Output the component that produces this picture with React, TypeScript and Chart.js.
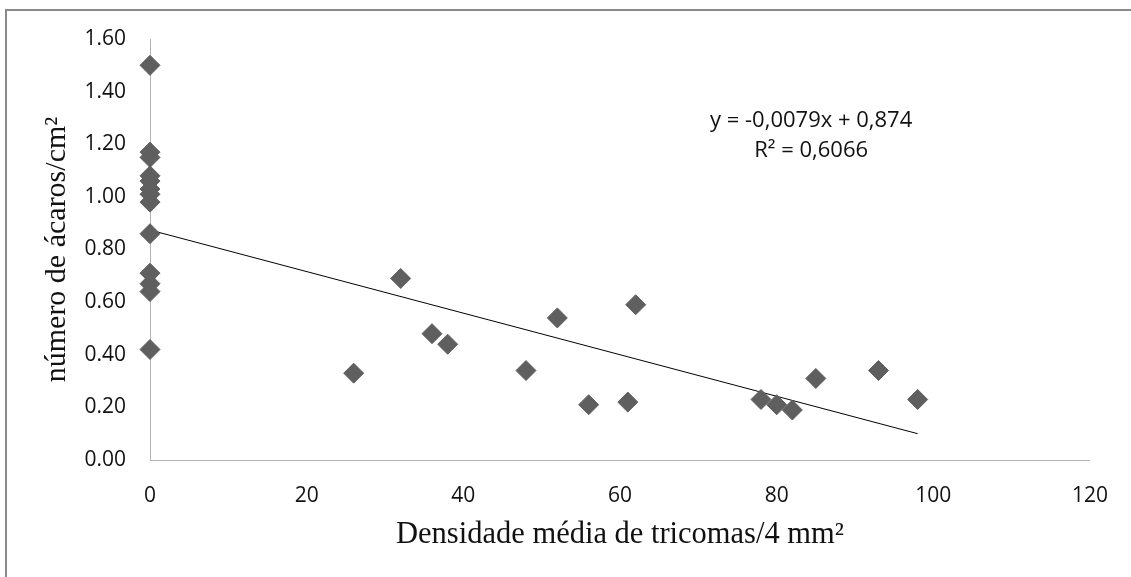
import React, { useEffect, useRef } from "react";
import { Chart, registerables } from "chart.js";

Chart.register(...registerables);

// Observed points: trichome density (x) vs mites per cm² (y)
const densityX: number[] = [
  0, 0, 0, 0, 0, 0, 0, 0, 0, 0, 0, 0, 0,
  26, 32, 36, 38, 48, 52, 56, 61, 62, 78, 80, 82, 85, 93, 98,
];
const mitesY: number[] = [
  1.5, 1.17, 1.15, 1.08, 1.06, 1.03, 1.01, 0.98, 0.86, 0.71, 0.67, 0.64, 0.42,
  0.33, 0.69, 0.48, 0.44, 0.34, 0.54, 0.21, 0.22, 0.59, 0.23, 0.21, 0.19, 0.31, 0.34, 0.23,
];

// Linear trendline end points (y = -0,0079x + 0,874)
const trendX: number[] = [0, 98];
const trendY: number[] = [0.874, 0.1];

const equationLines: string[] = ["y = -0,0079x + 0,874", "R² = 0,6066"];

const xTitle = "Densidade média de tricomas/4 mm²";
const yTitle = "número de ácaros/cm²";

const W = 1131;
const H = 577;

const decorPlugin = {
  id: "decor",
  afterDraw(chart: any) {
    const ctx = chart.ctx as CanvasRenderingContext2D;
    ctx.save();
    // outer chart-area frame (left + top visible)
    ctx.strokeStyle = "#8a8a8a";
    ctx.lineWidth = 2;
    ctx.beginPath();
    ctx.moveTo(6, H + 2);
    ctx.lineTo(6, 10);
    ctx.lineTo(W + 2, 10);
    ctx.stroke();
    // equation label
    const xs = chart.scales.x;
    const ys = chart.scales.y;
    ctx.fillStyle = "#111";
    ctx.font = '22px "Open Sans"';
    ctx.textAlign = "center";
    ctx.textBaseline = "middle";
    const cx = xs.getPixelForValue(84.4);
    const y0 = ys.getPixelForValue(1.29);
    equationLines.forEach((t, i) => ctx.fillText(t, cx, y0 + i * 30));
    ctx.restore();
  },
};

export default function App() {
  const ref = useRef<HTMLCanvasElement | null>(null);
  useEffect(() => {
    document.body.style.margin = "0";
    const canvas = ref.current!;
    const points = densityX.map((x, i) => ({ x, y: mitesY[i] }));
    const trend = trendX.map((x, i) => ({ x, y: trendY[i] }));
    const chart = new Chart(canvas, {
      type: "scatter",
      data: {
        datasets: [
          {
            label: "trend",
            type: "line",
            data: trend,
            borderColor: "#000",
            borderWidth: 1,
            pointRadius: 0,
            fill: false,
            clip: false,
            order: 2,
          } as any,
          {
            label: "ácaros",
            data: points,
            pointStyle: "rectRot",
            pointRadius: 10,
            pointBorderWidth: 1,
            pointBackgroundColor: "#5f5f5f",
            pointBorderColor: "#5f5f5f",
            clip: false,
            order: 1,
          } as any,
        ],
      },
      plugins: [decorPlugin],
      options: {
        responsive: false,
        animation: false,
        layout: { padding: { left: 0, top: 39, right: 41, bottom: 0 } },
        plugins: {
          legend: { display: false },
          tooltip: { enabled: false },
        },
        scales: {
          x: {
            type: "linear",
            min: 0,
            max: 120,
            grid: { display: false, drawTicks: false },
            border: { display: true, color: "#b3b3b3", width: 1 },
            ticks: {
              stepSize: 20,
              padding: 23,
              color: "#111",
              font: { family: "Open Sans", size: 21 },
            },
            title: {
              display: true,
              text: xTitle,
              color: "#111",
              font: { family: "Liberation Serif", size: 30.5 },
              padding: { top: 0, bottom: 24 },
            },
            afterFit: (s: any) => {
              s.height = 117;
            },
          },
          y: {
            type: "linear",
            min: 0,
            max: 1.6,
            grid: { display: false, drawTicks: false },
            border: { display: true, color: "#b3b3b3", width: 1 },
            ticks: {
              stepSize: 0.2,
              padding: 24,
              color: "#111",
              font: { family: "Open Sans", size: 21 },
              callback: (v: any) => Number(v).toFixed(2),
            },
            title: {
              display: true,
              text: yTitle,
              color: "#111",
              font: { family: "Liberation Serif", size: 30 },
              padding: { top: 39, bottom: 0 },
            },
            afterFit: (s: any) => {
              s.width = 150;
            },
          },
        },
      },
    });
    return () => chart.destroy();
  }, []);
  return (
    <div style={{ width: W, height: H, background: "#fff" }}>
      <canvas ref={ref} width={W} height={H} style={{ display: "block" }} />
    </div>
  );
}
